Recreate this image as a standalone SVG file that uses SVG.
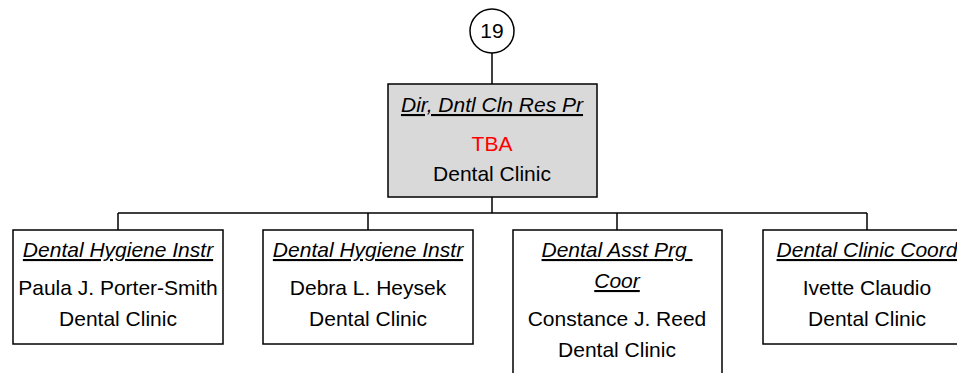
<svg xmlns="http://www.w3.org/2000/svg" width="957" height="373" viewBox="0 0 957 373">
<style>
text{font-family:"Liberation Sans",Arial,sans-serif;font-size:21px;fill:#000;text-anchor:middle}
.t{font-style:italic;text-decoration:underline}
.red{fill:#ff0000}
.box{fill:#fff;stroke:#000;stroke-width:1.5}
.gray{fill:#d9d9d9}
.ln{stroke:#000;stroke-width:1.5;fill:none}
</style>
<g id="connectors">
<path class="ln" d="M492 53V84M492 197V213M118 213H867M118 213V230M368 213V230M617 213V230M867 213V230"/>
</g>
<g id="n19">
<circle cx="492" cy="31" r="22" fill="#fff" stroke="#000" stroke-width="1.5"/>
<text x="492" y="38">19</text>
</g>
<g id="dir">
<rect class="box gray" x="388" y="84" width="209" height="113"/>
<text class="t" x="492" y="112">Dir, Dntl Cln Res Pr</text>
<text class="red" x="492" y="151">TBA</text>
<text x="492" y="181">Dental Clinic</text>
</g>
<g id="porter">
<rect class="box" x="13" y="230" width="210" height="114"/>
<text class="t" x="118" y="257">Dental Hygiene Instr</text>
<text x="118" y="295">Paula J. Porter-Smith</text>
<text x="118" y="326">Dental Clinic</text>
</g>
<g id="heysek">
<rect class="box" x="263" y="230" width="210" height="114"/>
<text class="t" x="368" y="257">Dental Hygiene Instr</text>
<text x="368" y="295">Debra L. Heysek</text>
<text x="368" y="326">Dental Clinic</text>
</g>
<g id="reed">
<rect class="box" x="513" y="230" width="209" height="150"/>
<text class="t" x="617" y="257">Dental Asst Prg&#160;</text>
<text class="t" x="617" y="288">Coor</text>
<text x="617" y="326">Constance J. Reed</text>
<text x="617" y="357">Dental Clinic</text>
</g>
<g id="claudio">
<rect class="box" x="763" y="230" width="210" height="114"/>
<text class="t" x="867" y="257">Dental Clinic Coord</text>
<text x="867" y="295">Ivette Claudio</text>
<text x="867" y="326">Dental Clinic</text>
</g>
</svg>
